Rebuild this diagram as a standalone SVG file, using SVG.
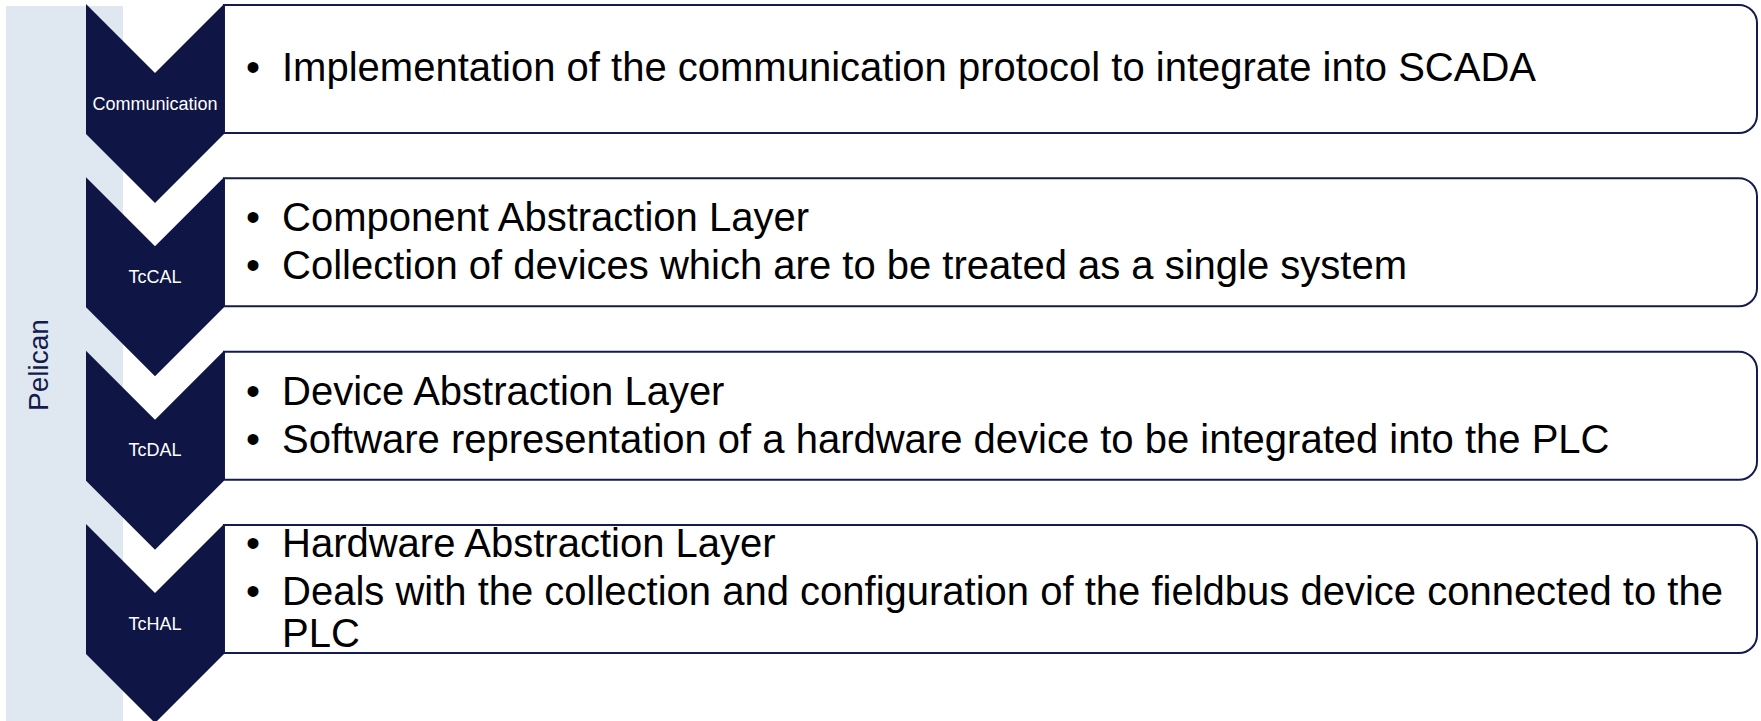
<svg xmlns="http://www.w3.org/2000/svg" width="1761" height="721" viewBox="0 0 1761 721">
  <style>
    .chev { fill: #0F1645; }
    .box { fill: #FFFFFF; stroke: #141B4D; stroke-width: 2; }
    .tag { font-family: "Liberation Sans", Arial, sans-serif; font-size: 18px; fill: #FFFFFF; text-anchor: middle; }
    .txt { font-family: "Liberation Sans", Arial, sans-serif; font-size: 40px; fill: #000000; }
    .side { font-family: "Liberation Sans", Arial, sans-serif; font-size: 28px; fill: #141B4D; text-anchor: middle; }
  </style>
  <defs>
    <!-- chevron shape: 138 wide, notch and tip 69 deep -->
    <polygon id="chevron" points="86,0 155,69 224,0 224,130 155,199 86,130"/>
    <!-- content box with rounded right corners -->
    <path id="panel" d="M224,0 H1739 A18,18 0 0 1 1757,18 V110 A18,18 0 0 1 1739,128 H224 Z"/>
  </defs>

  <!-- side band -->
  <g id="pelican">
    <rect x="6" y="6" width="117" height="715" fill="#DFE8F0"/>
    <text class="side" transform="translate(48,365) rotate(-90)">Pelican</text>
  </g>

  <g id="communication">
    <use href="#panel" class="box" transform="translate(0,5)"/>
    <use href="#chevron" class="chev" transform="translate(0,4)"/>
    <text class="tag" x="155" y="110">Communication</text>
    <text class="txt" x="246" y="81">•</text>
    <text class="txt" x="282" y="81">Implementation of the communication protocol to integrate into SCADA</text>
  </g>

  <g id="tccal">
    <use href="#panel" class="box" transform="translate(0,178.3)"/>
    <use href="#chevron" class="chev" transform="translate(0,177.3)"/>
    <text class="tag" x="155" y="283">TcCAL</text>
    <text class="txt" x="246" y="231">•</text>
    <text class="txt" x="282" y="231">Component Abstraction Layer</text>
    <text class="txt" x="246" y="279">•</text>
    <text class="txt" x="282" y="279">Collection of devices which are to be treated as a single system</text>
  </g>

  <g id="tcdal">
    <use href="#panel" class="box" transform="translate(0,351.7)"/>
    <use href="#chevron" class="chev" transform="translate(0,350.7)"/>
    <text class="tag" x="155" y="456.4">TcDAL</text>
    <text class="txt" x="246" y="405">•</text>
    <text class="txt" x="282" y="405">Device Abstraction Layer</text>
    <text class="txt" x="246" y="453">•</text>
    <text class="txt" x="282" y="453">Software representation of a hardware device to be integrated into the PLC</text>
  </g>

  <g id="tchal">
    <use href="#panel" class="box" transform="translate(0,525)"/>
    <use href="#chevron" class="chev" transform="translate(0,524)"/>
    <text class="tag" x="155" y="629.7">TcHAL</text>
    <text class="txt" x="246" y="557">•</text>
    <text class="txt" x="282" y="557">Hardware Abstraction Layer</text>
    <text class="txt" x="246" y="604.5">•</text>
    <text class="txt" x="282" y="604.5">Deals with the collection and configuration of the fieldbus device connected to the</text>
    <text class="txt" x="282" y="646.5">PLC</text>
  </g>
</svg>
